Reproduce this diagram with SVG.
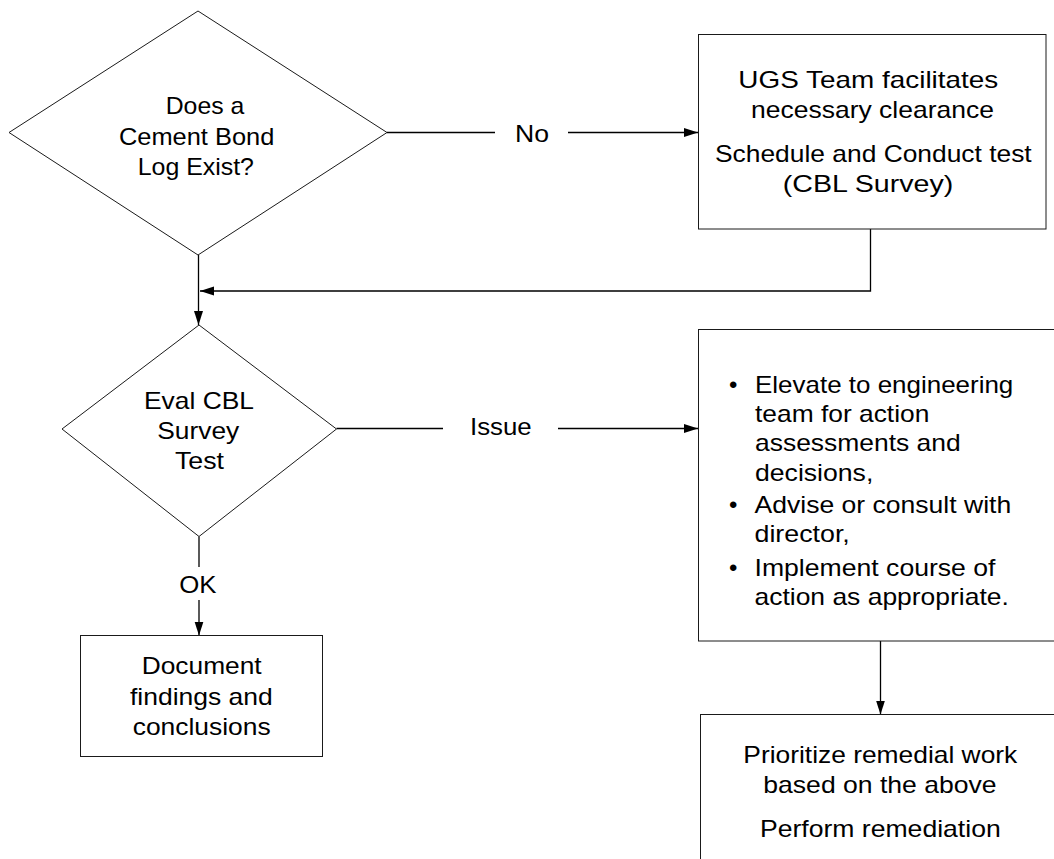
<svg xmlns="http://www.w3.org/2000/svg" width="1054" height="859" viewBox="0 0 1054 859">
  <style>
    .shape { fill: #fff; stroke: #1a1a1a; stroke-width: 1; }
    .conn { fill: none; stroke: #000; stroke-width: 1.3; }
    text { font-family: "Liberation Sans", Arial, sans-serif; font-size: 24px; fill: #000; }
  </style>
  <defs>
    <marker id="arrow" markerUnits="userSpaceOnUse" markerWidth="14" markerHeight="10" refX="14" refY="5" orient="auto">
      <path d="M0,0.5 L14,5 L0,9.5 z" fill="#000"/>
    </marker>
  </defs>

  <rect width="1054" height="859" fill="#fff"/>

  <!-- connectors -->
  <g id="connectors">
    <path class="conn" d="M198.5,255 V325" marker-end="url(#arrow)"/>
    <path class="conn" d="M870.5,229 V291 H200" marker-end="url(#arrow)"/>
    <path class="conn" d="M387,132.5 H495"/>
    <path class="conn" d="M568,132.5 H698" marker-end="url(#arrow)"/>
    <path class="conn" d="M336.5,428.5 H443"/>
    <path class="conn" d="M558,428.5 H698" marker-end="url(#arrow)"/>
    <path class="conn" d="M199,536.5 V567"/>
    <path class="conn" d="M199,600 V635.5" marker-end="url(#arrow)"/>
    <path class="conn" d="M880.5,641 V714.5" marker-end="url(#arrow)"/>
    <text x="515" y="141.7" textLength="34" lengthAdjust="spacingAndGlyphs">No</text>
    <text x="470" y="435" textLength="61.7" lengthAdjust="spacingAndGlyphs">Issue</text>
    <text x="179.3" y="592.7" textLength="37.3" lengthAdjust="spacingAndGlyphs">OK</text>
  </g>

  <!-- decision: does a CBL exist -->
  <g id="node-cbl-exists">
    <polygon class="shape" points="198,11 387,132.5 198,255 9,132.5"/>
    <text x="165.7" y="114" textLength="78.6" lengthAdjust="spacingAndGlyphs">Does a</text>
    <text x="119" y="145" textLength="155.3" lengthAdjust="spacingAndGlyphs">Cement Bond</text>
    <text x="137.7" y="174.5" textLength="116.3" lengthAdjust="spacingAndGlyphs">Log Exist?</text>
  </g>

  <!-- process: clearance and CBL survey -->
  <g id="node-schedule-test">
    <rect class="shape" x="698.5" y="34.5" width="347.5" height="194.5"/>
    <text x="738.3" y="88.3" textLength="260" lengthAdjust="spacingAndGlyphs">UGS Team facilitates</text>
    <text x="751" y="118.3" textLength="243" lengthAdjust="spacingAndGlyphs">necessary clearance</text>
    <text x="715" y="161.7" textLength="316.7" lengthAdjust="spacingAndGlyphs">Schedule and Conduct test</text>
    <text x="782.7" y="191.7" textLength="170.7" lengthAdjust="spacingAndGlyphs">(CBL Survey)</text>
  </g>

  <!-- decision: evaluate survey -->
  <g id="node-eval">
    <polygon class="shape" points="199,325 336.5,429 199,536.5 62,429"/>
    <text x="144" y="409.3" textLength="110" lengthAdjust="spacingAndGlyphs">Eval CBL</text>
    <text x="157.3" y="438.5" textLength="82" lengthAdjust="spacingAndGlyphs">Survey</text>
    <text x="175" y="469" textLength="49" lengthAdjust="spacingAndGlyphs">Test</text>
  </g>

  <!-- process: escalation actions -->
  <g id="node-escalate">
    <rect class="shape" x="698.5" y="329.5" width="400" height="311.5"/>
    <text x="733.3" y="392.7" text-anchor="middle">•</text>
    <text x="755" y="392.7" textLength="258.3" lengthAdjust="spacingAndGlyphs">Elevate to engineering</text>
    <text x="755" y="422" textLength="174.3" lengthAdjust="spacingAndGlyphs">team for action</text>
    <text x="755" y="451" textLength="205.7" lengthAdjust="spacingAndGlyphs">assessments and</text>
    <text x="755" y="480.5" textLength="118.3" lengthAdjust="spacingAndGlyphs">decisions,</text>
    <text x="733.3" y="512.5" text-anchor="middle">•</text>
    <text x="754.5" y="512.5" textLength="256.7" lengthAdjust="spacingAndGlyphs">Advise or consult with</text>
    <text x="754.5" y="541.5" textLength="95.3" lengthAdjust="spacingAndGlyphs">director,</text>
    <text x="733.3" y="576" text-anchor="middle">•</text>
    <text x="754.5" y="576" textLength="241" lengthAdjust="spacingAndGlyphs">Implement course of</text>
    <text x="754.5" y="605" textLength="254.3" lengthAdjust="spacingAndGlyphs">action as appropriate.</text>
  </g>

  <!-- process: document findings -->
  <g id="node-document">
    <rect class="shape" x="80.5" y="635.5" width="242" height="121"/>
    <text x="141.7" y="674" textLength="120" lengthAdjust="spacingAndGlyphs">Document</text>
    <text x="130" y="705" textLength="142.7" lengthAdjust="spacingAndGlyphs">findings and</text>
    <text x="132.7" y="735" textLength="138" lengthAdjust="spacingAndGlyphs">conclusions</text>
  </g>

  <!-- process: remediation -->
  <g id="node-remediate">
    <rect class="shape" x="700.5" y="714.5" width="400" height="200"/>
    <text x="743.3" y="763.3" textLength="274" lengthAdjust="spacingAndGlyphs">Prioritize remedial work</text>
    <text x="763.3" y="793.3" textLength="233.3" lengthAdjust="spacingAndGlyphs">based on the above</text>
    <text x="760" y="836.7" textLength="240.7" lengthAdjust="spacingAndGlyphs">Perform remediation</text>
  </g>
</svg>
